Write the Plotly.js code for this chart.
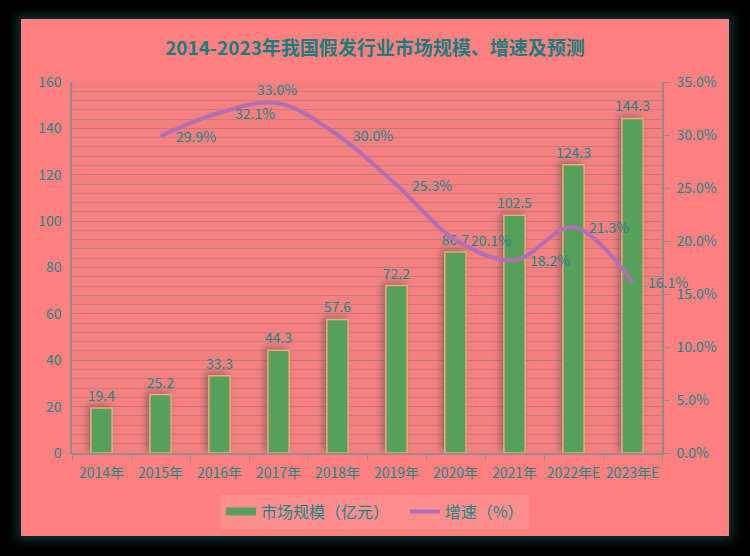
<!DOCTYPE html>
<html>
<head>
<meta charset="utf-8">
<script src="https://cdn.plot.ly/plotly-3.0.1.min.js"></script>
<style>
    body { margin: 0; background: #000; width: 750px; height: 556px; overflow: hidden; }
    #chart {
        position: absolute; left: 21px; top: 19px; width: 708px; height: 517px;
        box-shadow: 0 0 10px 4px #0b3434;
    }
    .bars .point path { filter: drop-shadow(-3px -2px 3px rgba(90,80,80,0.55)); }
</style>
</head>
<body>
<div id="chart"></div>
<script>
// data
const years = ['2014年', '2015年', '2016年', '2017年', '2018年', '2019年', '2020年', '2021年', '2022年E', '2023年E'];
const marketSize = [19.4, 25.2, 33.3, 44.3, 57.6, 72.2, 86.7, 102.5, 124.3, 144.3];
const growthYears = ['2015年', '2016年', '2017年', '2018年', '2019年', '2020年', '2021年', '2022年E', '2023年E'];
const growthRate = [29.9, 32.1, 33.0, 30.0, 25.3, 20.1, 18.2, 21.3, 16.1];

const textColor = '#1e8585';
const font = 'Noto Sans CJK SC, sans-serif';
const barGreen = '#57a05c';
const nb = '\u00a0';

const barTrace = {
    x: years,
    y: marketSize,
    type: 'bar',
    name: '市场规模（亿元）',
    showlegend: false,
    marker: {
        color: barGreen,
        line: { color: '#f0a878', width: 1.5 }
    },
    text: marketSize.map(v => v.toFixed(1)),
    textposition: 'outside',
    constraintext: 'none',
    outsidetextfont: { color: textColor, size: 14, family: font },
    cliponaxis: false
};

// legend entry for the bars (wide swatch like the original)
const barLegend = {
    x: [years[0]],
    y: [null],
    type: 'scatter',
    mode: 'lines',
    name: '市场规模（亿元）' + nb + nb + nb,
    line: { color: barGreen, width: 8 },
    hoverinfo: 'skip'
};

const lineTrace = {
    x: growthYears,
    y: growthRate.map(v => v / 100),
    type: 'scatter',
    mode: 'lines',
    name: '增速（%）',
    yaxis: 'y2',
    line: { color: '#b46fb4', width: 4, shape: 'spline', smoothing: 1 },
    cliponaxis: false
};

// growth labels sit right of each point, the peak one above it
const growthLabels = growthYears.map((yr, i) => ({
    x: yr,
    y: growthRate[i] / 100,
    xref: 'x', yref: 'y2',
    text: growthRate[i].toFixed(1) + '%',
    showarrow: false,
    xanchor: i === 2 ? 'center' : 'left',
    yanchor: i === 2 ? 'bottom' : 'middle',
    xshift: i === 2 ? -2 : 13,
    yshift: i === 2 ? 2 : 0,
    font: { color: textColor, size: 14, family: font }
}));

const layout = {
    width: 708,
    height: 517,
    margin: { l: 51, r: 67, t: 63, b: 83 },
    paper_bgcolor: '#ff8080',
    plot_bgcolor: '#f58080',
    font: { family: font, color: textColor, size: 14 },
    title: {
        text: '<b>2014-2023年我国假发行业市场规模、增速及预测</b>',
        font: { size: 19, color: '#1b7c7c', family: font },
        x: 0.5, xanchor: 'center', y: 0.944, yanchor: 'middle'
    },
    bargap: 0.64,
    xaxis: {
        type: 'category',
        range: [-0.5, years.length - 0.5],
        showline: true, linecolor: '#9a8a8a', linewidth: 1.5,
        ticks: 'outside', tickson: 'boundaries', ticklen: 6, tickcolor: '#9a8a8a',
        tickangle: 0,
        tickfont: { size: 14, color: textColor },
        ticklabelstandoff: 6,
        showgrid: false
    },
    yaxis: {
        range: [0, 160], dtick: 20,
        showline: true, linecolor: '#9a8a8a', linewidth: 1.5,
        tickfont: { size: 14, color: textColor },
        gridcolor: '#c27878', gridwidth: 1,
        minor: { dtick: 4, showgrid: true, gridcolor: '#c97c7c', gridwidth: 1 },
        zeroline: false,
        ticklabelstandoff: 6
    },
    yaxis2: {
        overlaying: 'y', side: 'right',
        range: [0, 0.35], dtick: 0.05, tickformat: '.1%',
        showline: true, linecolor: '#9a8a8a', linewidth: 1.5,
        ticks: 'outside', ticklen: 6, tickcolor: '#9a8a8a',
        tickfont: { size: 14, color: textColor },
        showgrid: false, zeroline: false,
        ticklabelstandoff: 4
    },
    annotations: growthLabels,
    showlegend: true,
    legend: {
        orientation: 'h',
        xref: 'container', yref: 'container',
        x: 0.5, xanchor: 'center',
        y: 0.08, yanchor: 'top',
        bgcolor: 'rgba(255,145,145,0.8)',
        font: { size: 16, color: textColor, family: font },
        itemwidth: 30,
        tracegroupgap: 0
    }
};

Plotly.newPlot('chart', [barTrace, barLegend, lineTrace], layout, { displayModeBar: false });
</script>
</body>
</html>
